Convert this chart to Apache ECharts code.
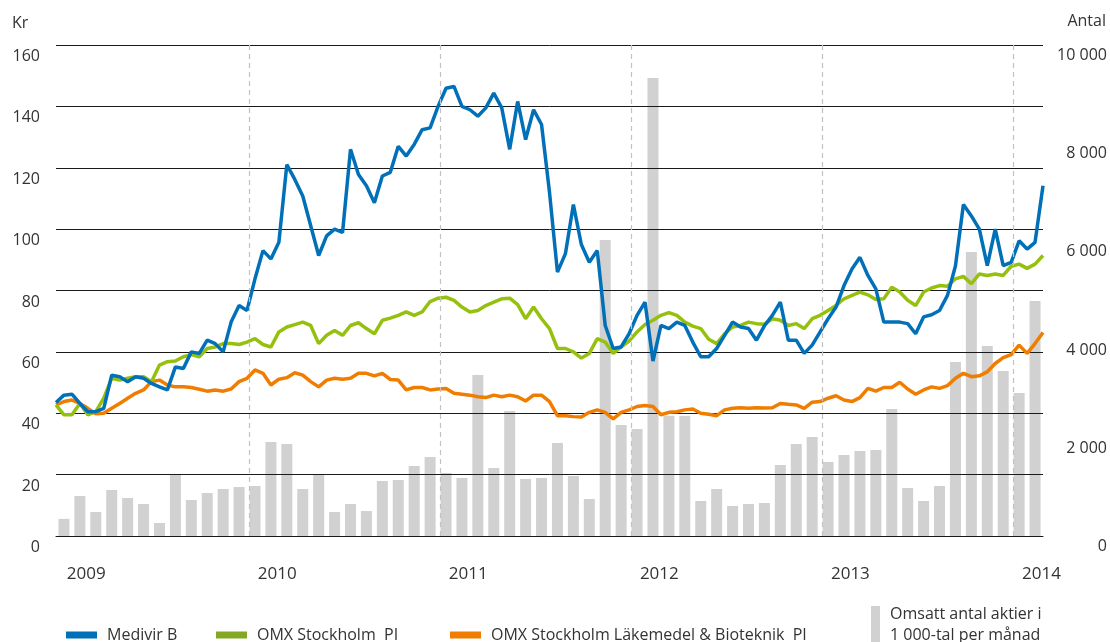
<!DOCTYPE html>
<html>
<head>
<meta charset="utf-8">
<script src="https://cdn.jsdelivr.net/npm/echarts@6/dist/echarts.min.js"></script>
<style>
html, body { margin: 0; padding: 0; background: #fff; }
#chart { width: 1110px; height: 642px; }
</style>
</head>
<body>
<div id="chart"></div>
<script>
// kurser, ett värde per halvmånad från jan 2009 till slutet av feb 2014 (kr)
var medivir = [
  43.5, 45.9, 46.2, 43.2, 40.5, 40.5, 41.6, 52.4, 51.9, 50.3, 51.9, 51.4, 49.7, 48.6, 47.6, 55.1, 54.6, 60.0, 59.5,
  63.8, 62.7, 60.0, 69.7, 75.1, 73.5, 83.8, 93.0, 90.3, 95.7, 121.0, 116.2, 110.8, 101.1, 91.4, 97.8, 100.0, 98.9, 126.0, 117.8, 114.1, 108.6, 117.3, 118.5,
  127.0, 123.8, 127.6, 132.4, 133.0, 140.0, 145.9, 146.5, 140.0, 138.9, 136.8, 139.5, 144.3, 139.5, 126.0, 141.6, 129.2, 138.9, 134.1, 112.0, 86.0, 92.0, 108.0, 95.0,
  89.2, 93.0, 68.6, 61.1, 61.6, 65.9, 71.9, 76.2, 57.0, 68.6, 67.6, 69.7, 68.6, 63.2, 58.4, 58.4, 61.1, 65.4, 69.7, 68.1, 67.6, 63.8, 68.5,
  71.9, 76.2, 63.8, 63.8, 59.5, 62.2, 66.5, 70.8, 74.6, 81.6, 87.0, 90.8, 84.9, 80.5, 69.7, 69.7, 69.7, 69.2, 65.9, 71.4, 72.1, 73.5, 78.4, 88.0,
  108.0, 104.3, 100.0, 88.1, 100.0, 88.1, 89.2, 96.2, 93.5, 95.7, 114.1
];
var omxPI = [
  42.7, 39.5, 39.5, 43.2, 39.5, 40.5, 44.9, 51.4, 50.8, 51.4, 51.9, 51.9, 50.3, 55.7, 56.8, 57.0, 58.4, 59.1, 58.4,
  61.1, 61.6, 62.7, 62.7, 62.4, 63.2, 64.3, 62.4, 61.6, 66.5, 68.1, 68.9, 69.7, 68.6, 62.7, 65.4, 67.0, 65.4, 68.6, 69.5, 67.6, 65.9, 70.3, 71.0,
  71.9, 73.0, 71.9, 73.0, 76.4, 77.5, 77.8, 76.8, 74.6, 73.0, 73.5, 75.1, 76.2, 77.3, 77.5, 75.4, 70.8, 74.6, 70.8, 67.6, 61.1, 61.1, 60.0, 58.0,
  59.5, 64.3, 63.2, 59.5, 61.6, 63.5, 66.5, 68.9, 70.3, 71.9, 72.8, 71.9, 69.7, 68.4, 67.6, 64.1, 62.7, 65.9, 68.1, 68.6, 69.7, 69.2, 69.0,
  70.8, 70.3, 68.6, 69.2, 67.6, 70.8, 71.9, 73.5, 75.1, 77.3, 78.4, 79.5, 78.6, 77.1, 77.3, 81.1, 79.5, 76.8, 75.1, 79.5, 80.8, 81.6, 81.4, 83.8,
  84.6, 82.2, 85.4, 84.9, 85.4, 84.9, 87.9, 88.6, 87.2, 88.6, 91.4
];
var lakemedel = [
  42.7, 43.8, 44.3, 43.2, 41.6, 39.8, 40.0, 41.6, 43.2, 44.9, 46.5, 47.6, 50.3, 50.8, 49.2, 48.6, 48.6, 48.4, 47.8,
  47.2, 47.6, 47.2, 47.9, 50.3, 51.4, 54.1, 53.0, 49.2, 51.1, 51.6, 53.2, 52.4, 50.3, 48.6, 50.8, 51.4, 51.1, 51.4, 53.0, 53.0, 52.2, 53.0, 51.0,
  50.8, 47.6, 48.4, 48.4, 47.6, 47.9, 48.1, 46.5, 46.2, 45.9, 45.4, 45.1, 45.9, 45.4, 45.9, 45.4, 44.0, 45.9, 45.9, 43.8, 39.2, 39.2, 38.9, 38.8,
  40.3, 41.1, 40.3, 38.2, 40.3, 41.1, 42.2, 42.5, 42.2, 39.5, 40.3, 40.5, 41.1, 41.4, 40.0, 39.7, 39.2, 41.1, 41.6, 41.8, 41.6, 41.8, 41.7,
  41.8, 43.2, 42.9, 42.7, 41.6, 43.6, 43.8, 44.9, 45.7, 44.3, 43.8, 45.1, 48.1, 47.2, 48.4, 48.4, 50.1, 47.9, 46.2, 47.6, 48.6, 48.1, 49.0, 51.4,
  53.0, 51.9, 52.2, 53.5, 56.2, 58.1, 59.1, 62.2, 59.5, 62.7, 66.3
];
// omsatt antal aktier per månad (1 000-tal), jan 2009 - feb 2014
var volume = [
  350, 815, 490, 937, 774, 652, 265, 1243, 733, 876, 957, 998,
  1018, 1915, 1874, 957, 1243, 490, 652, 509, 1120, 1141, 1426, 1609,
  1283, 1181, 3280, 1385, 2546, 1161, 1181, 1894, 1222, 754, 6030, 2261,
  2180, 9330, 2450, 2450, 713, 957, 611, 652, 672, 1446, 1874, 2017,
  1507, 1650, 1731, 1752, 2587, 978, 713, 1018, 3544, 5785, 3870, 3361,
  2913, 4787
];
var yearLabels = ['2009', '2010', '2011', '2012', '2013', '2014'];
var names = [
  'Medivir B',
  'OMX Stockholm  PI',
  'OMX Stockholm Läkemedel & Bioteknik  PI',
  'Omsatt antal aktier i\n1 000-tal per månad'
];

var font = 'Open Sans';
var textColor = '#333';

function halfMonths(arr) {
  return arr.map(function(v, i) { return [i / 2, v]; });
}
function thousands(v) {
  if (v < 1000) return String(v);
  return Math.floor(v / 1000) + ' ' + ('00' + (v % 1000)).slice(-3);
}

var lineLegend = function(name, left, color) {
  return {
    data: [{ name: name, itemStyle: { color: color } }],
    left: left, top: 622,
    icon: 'rect', itemWidth: 31, itemHeight: 7,
    selectedMode: false,
    textStyle: { fontFamily: font, fontSize: 16, color: textColor, padding: [0, 0, 0, 5] }
  };
};

var chart = echarts.init(document.getElementById('chart'));
chart.setOption({
  animation: false,
  grid: { left: 56, right: 67, top: 45, bottom: 106 },
  graphic: [
    { type: 'text', left: 12, top: 15, style: { text: 'Kr', font: '16px "Open Sans"', fill: textColor } },
    { type: 'text', right: 4, top: 13, style: { text: 'Antal', font: '16px "Open Sans"', fill: textColor } }
  ],
  legend: [
    lineLegend(names[0], 61, '#0070b8'),
    lineLegend(names[1], 211, '#84a822'),
    lineLegend(names[2], 445, '#f07d00'),
    {
      data: [names[3]],
      left: 866, top: 599,
      icon: 'rect', itemWidth: 9, itemHeight: 38,
      selectedMode: false,
      textStyle: { fontFamily: font, fontSize: 16, lineHeight: 21, color: textColor, padding: [0, 0, 0, 5] }
    }
  ],
  xAxis: {
    type: 'value',
    min: 0,
    max: 62,
    axisLine: { show: true, lineStyle: { color: '#1a1a1a', width: 1 } },
    axisTick: { show: false },
    splitLine: { show: false },
    axisLabel: {
      customValues: yearLabels.map(function(y, k) { return k * 12 + 1.9; }),
      formatter: function(v) { return yearLabels[Math.floor(v / 12)]; },
      margin: 30,
      fontFamily: font, fontSize: 17, color: textColor
    }
  },
  yAxis: [
    {
      type: 'value', min: 0, max: 160, interval: 20, z: 2,
      axisLine: { show: false }, axisTick: { show: false },
      splitLine: { lineStyle: { color: '#1a1a1a', width: 1 } },
      axisLabel: { margin: 16, fontFamily: font, fontSize: 16, color: textColor, verticalAlign: 'top', lineHeight: 23 }
    },
    {
      type: 'value', min: 0, max: 10000, interval: 2000,
      axisLine: { show: false }, axisTick: { show: false },
      splitLine: { show: false },
      axisLabel: {
        margin: 64, align: 'right', formatter: thousands,
        fontFamily: font, fontSize: 16, color: textColor, verticalAlign: 'top', lineHeight: 21
      }
    }
  ],
  series: [
    {
      name: names[3], type: 'bar', yAxisIndex: 1, z: 1,
      barWidth: 11,
      itemStyle: { color: '#d1d1d1' },
      data: volume.map(function(v, i) { return [i + 0.5, v]; }),
      markLine: {
        silent: true, symbol: 'none', label: { show: false },
        lineStyle: { type: [5, 4], color: '#c2c2c2', width: 1.2 },
        data: [1, 2, 3, 4, 5].map(function(k) { return { xAxis: k * 12 + 0.15 }; })
      }
    },
    {
      name: names[2], type: 'line', z: 3, showSymbol: false,
      itemStyle: { color: '#f07d00' },
      lineStyle: { color: '#f07d00', width: 3.5 },
      data: halfMonths(lakemedel)
    },
    {
      name: names[1], type: 'line', z: 3, showSymbol: false,
      itemStyle: { color: '#96c00e' },
      lineStyle: { color: '#96c00e', width: 3.5 },
      data: halfMonths(omxPI)
    },
    {
      name: names[0], type: 'line', z: 3, showSymbol: false,
      itemStyle: { color: '#0070b8' },
      lineStyle: { color: '#0070b8', width: 3.5 },
      data: halfMonths(medivir)
    }
  ]
});
</script>
</body>
</html>
